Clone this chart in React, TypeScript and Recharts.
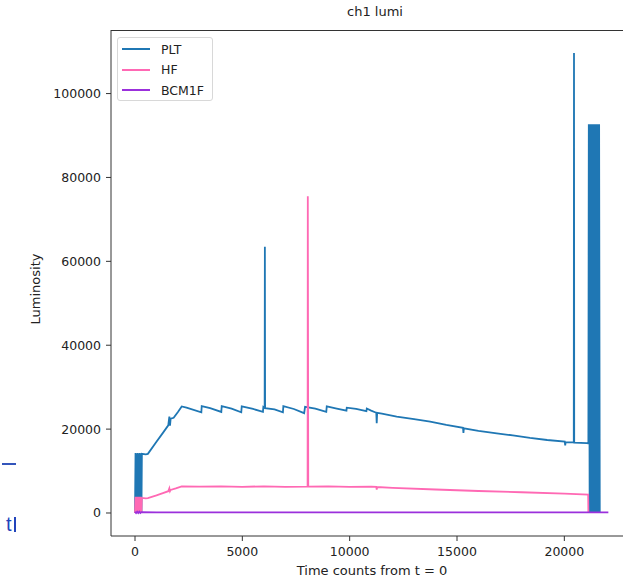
import React from 'react';
import { LineChart, Line, XAxis, YAxis } from 'recharts';

// PLT: time counts and luminosity
const pltTime = [
  0, 25, 50, 75, 100, 125, 150, 175, 200, 225, 250, 275, 300, 320, 500, 600,
  1000, 1300, 1550, 1600, 1630, 1660, 1800, 2000, 2176, 2400, 3090, 3108, 3500,
  4020, 4040, 4500, 4950, 4972, 5500, 5960, 5979, 6040, 6050, 6060, 6500, 6890,
  6911, 7400, 7880, 7922, 8400, 8910, 8933, 9400, 9850, 9865, 10300, 10780,
  10797, 11000, 11240, 11260, 11280, 11500, 12190, 13000, 13750, 14500, 15280,
  15300, 15320, 16000, 16850, 17600, 18400, 19200, 20020, 20040, 20060, 20440,
  20450, 20460, 21050, 21120, 21140, 21180, 21220, 21260, 21300, 21340,
  21380, 21420, 21460, 21500, 21540, 21580, 21620, 21650,
];
const pltLumi = [
  0, 14300, 200, 14200, 0, 14300, 300, 14200, 0, 14300, 100, 14200, 0, 14100, 14000, 14100,
  17000, 19100, 20900, 23000, 20800, 22500, 22700, 24100, 25400, 25100, 24000, 25500, 25000,
  24100, 25500, 24900, 24000, 25400, 24800, 24100, 25300, 25100, 63500, 25000, 24700, 24000,
  25500, 24800, 23800, 25300, 24900, 24100, 25400, 24900, 24400, 25100, 24800, 24300,
  24900, 24400, 23900, 21400, 23900, 23700, 23000, 22400, 21800, 21000, 20300,
  19100, 20200, 19600, 19000, 18500, 17900, 17400, 17000, 16100, 16900, 16850,
  109700, 16800, 16680, 16600, 92700, 0, 92700, 0, 92700, 0,
  92700, 0, 92700, 0, 92700, 0, 92700, 0,
];

// HF
const hfTime = [
  0, 25, 50, 75, 100, 125, 150, 175, 200, 225, 250, 275, 300, 320, 500, 600,
  1000, 1300, 1550, 1600, 1630, 1660, 1900, 2176, 3000, 4000, 5000, 6000, 7000,
  8000, 8040, 8050, 8070, 9000, 10000, 11000, 11240, 11260, 11280, 12000, 14000,
  16000, 18000, 20000, 21110, 21120,
];
const hfLumi = [
  0, 3850, 0, 3850, 100, 3850, 0, 3850, 100, 3850, 0, 3850, 100, 3600, 3500, 3550,
  4200, 4750, 5200, 5900, 5200, 5500, 5850, 6350, 6300, 6350, 6250, 6350, 6250,
  6300, 6300, 75500, 6300, 6350, 6250, 6300, 6230, 5600, 6200, 6000, 5600,
  5250, 4950, 4600, 4400, 0,
];

// BCM1F
const bcmTime = [0, 50, 100, 150, 200, 250, 300, 1000, 5000, 10000, 15000, 20000, 22050];
const bcmLumi = [300, 0, 300, 0, 300, 0, 200, 150, 150, 150, 150, 150, 150];

const xTicks = [0, 5000, 10000, 15000, 20000];
const yTicks = [0, 20000, 40000, 60000, 80000, 100000];

const series = [
  { name: 'PLT', color: '#1f77b4' },
  { name: 'HF', color: '#ff69b4' },
  { name: 'BCM1F', color: '#9b30dc' },
];

const toPoints = (t: number[], v: number[]) => t.map((x, i) => ({ t: x, lumi: v[i] }));

const pltData = toPoints(pltTime, pltLumi);
const hfData = toPoints(hfTime, hfLumi);
const bcmData = toPoints(bcmTime, bcmLumi);

const xDomain = [-1118, 23478];
const yDomain = [-5484, 115155];

const App = () => {
  return (
    <div
      style={{
        position: 'fixed',
        left: 0,
        top: 0,
        width: 623,
        height: 578,
        overflow: 'hidden',
        background: '#fff',
        fontFamily: '"DejaVu Sans", sans-serif',
      }}
    >
      <LineChart width={660} height={578} margin={{ top: 30, right: 21, bottom: 12, left: 51 }}>
        <XAxis
          dataKey="t"
          type="number"
          domain={xDomain}
          ticks={xTicks}
          allowDataOverflow
          height={30}
          tickSize={5}
          tickMargin={6}
          stroke="#333"
          tick={{ fill: '#222', fontSize: 12.5 }}
        />
        <YAxis
          type="number"
          domain={yDomain}
          ticks={yTicks}
          allowDataOverflow
          width={60}
          tickSize={5}
          tickMargin={5}
          stroke="#333"
          tick={{ fill: '#222', fontSize: 12.5 }}
        />
        <Line data={pltData} dataKey="lumi" name="PLT" stroke={series[0].color} strokeWidth={1.8} dot={false} isAnimationActive={false} />
        <Line data={hfData} dataKey="lumi" name="HF" stroke={series[1].color} strokeWidth={1.8} dot={false} isAnimationActive={false} />
        <Line data={bcmData} dataKey="lumi" name="BCM1F" stroke={series[2].color} strokeWidth={1.8} dot={false} isAnimationActive={false} />
      </LineChart>

      {/* top edge of the axes frame (right edge lies past the crop) */}
      <div style={{ position: 'absolute', left: 111, top: 30, width: 512, height: 1, background: '#333' }} />

      {/* title and axis labels */}
      <div style={{ position: 'absolute', left: 275, width: 200, top: 4, textAlign: 'center', fontSize: 13, color: '#222' }}>
        ch1 lumi
      </div>
      <div style={{ position: 'absolute', left: 222, width: 300, top: 563, textAlign: 'center', fontSize: 13, color: '#222' }}>
        Time counts from t = 0
      </div>
      <div
        style={{
          position: 'absolute',
          left: 37 - 60,
          top: 289 - 9,
          width: 120,
          height: 18,
          textAlign: 'center',
          fontSize: 13,
          color: '#222',
          transform: 'rotate(-90deg)',
        }}
      >
        Luminosity
      </div>

      {/* legend */}
      <div
        style={{
          position: 'absolute',
          left: 117,
          top: 37,
          width: 94,
          height: 62,
          border: '1px solid #d8d8d8',
          borderRadius: 3,
          background: 'rgba(255,255,255,0.8)',
        }}
      >
        {series.map((s, i) => (
          <div key={s.name} style={{ position: 'absolute', left: 4, top: 3 + i * 20.5, height: 16, display: 'flex', alignItems: 'center' }}>
            <div style={{ width: 28, height: 2, background: s.color }} />
            <span style={{ marginLeft: 11, fontSize: 12.5, color: '#222' }}>{s.name}</span>
          </div>
        ))}
      </div>

      {/* bits of the surrounding page */}
      <div style={{ position: 'absolute', left: 2, top: 463, width: 14, height: 2, background: '#3355bb' }} />
      <span
        style={{
          position: 'absolute',
          left: 6,
          top: 511,
          fontFamily: '"Liberation Sans", sans-serif',
          fontSize: 20,
          color: '#2244bb',
          lineHeight: '26px',
        }}
      >
        t
      </span>
      <div style={{ position: 'absolute', left: 14, top: 517, width: 2, height: 15, background: '#2244bb' }} />
    </div>
  );
};

export default App;
